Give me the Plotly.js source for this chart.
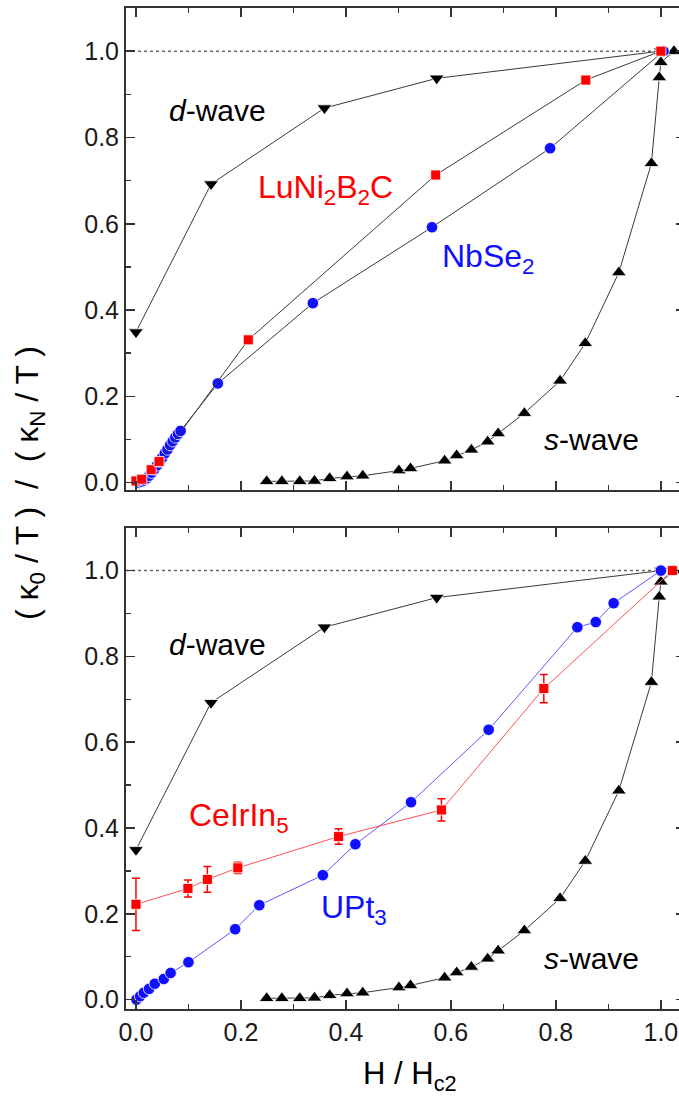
<!DOCTYPE html>
<html>
<head>
<meta charset="utf-8">
<script src="https://cdn.plot.ly/plotly-3.0.1.min.js"></script>
<style>html,body{margin:0;padding:0;overflow:hidden;background:#fff}</style>
</head>
<body>
<div id="chart"></div>
<script>
// d-wave (both panels)
const dwaveX = [0.0, 0.143, 0.359, 0.573, 1.0];
const dwaveY = [0.349, 0.692, 0.868, 0.937, 1.0];
// s-wave (both panels)
const swaveX = [0.249, 0.278, 0.312, 0.340, 0.369, 0.402, 0.432, 0.501, 0.523, 0.588, 0.611, 0.639, 0.670, 0.690, 0.740, 0.808, 0.856, 0.920, 0.982, 0.997, 1.0, 1.025];
const swaveY = [0.003, 0.003, 0.003, 0.004, 0.010, 0.014, 0.016, 0.028, 0.033, 0.051, 0.063, 0.076, 0.095, 0.114, 0.161, 0.236, 0.323, 0.487, 0.740, 0.939, 0.974, 1.0];
// LuNi2B2C (top)
const luniX = [0.0, 0.011, 0.029, 0.044, 0.214, 0.571, 0.857, 1.0];
const luniY = [0.004, 0.008, 0.030, 0.049, 0.331, 0.713, 0.933, 1.0];
// NbSe2 (top)
const nbseX = [0.005, 0.01, 0.015, 0.02, 0.025, 0.03, 0.035, 0.04, 0.045, 0.05, 0.055, 0.06, 0.065, 0.07, 0.075, 0.08, 0.085, 0.156, 0.337, 0.564, 0.789, 1.005];
const nbseY = [0.0, 0.002, 0.005, 0.010, 0.016, 0.023, 0.031, 0.040, 0.049, 0.058, 0.068, 0.077, 0.087, 0.096, 0.105, 0.113, 0.120, 0.230, 0.416, 0.592, 0.775, 1.0];
// CeIrIn5 (bottom)
const ceX = [0.0, 0.099, 0.136, 0.194, 0.386, 0.582, 0.777, 1.022];
const ceY = [0.222, 0.259, 0.280, 0.307, 0.380, 0.442, 0.725, 1.0];
const ceErr = [0.061, 0.020, 0.030, 0.013, 0.018, 0.026, 0.033, 0.0];
// UPt3 (bottom)
const uptX = [0.001, 0.008, 0.015, 0.025, 0.036, 0.053, 0.066, 0.100, 0.189, 0.235, 0.356, 0.418, 0.524, 0.672, 0.841, 0.876, 0.910, 1.0];
const uptY = [0.0, 0.008, 0.016, 0.025, 0.037, 0.048, 0.062, 0.087, 0.164, 0.220, 0.290, 0.362, 0.460, 0.629, 0.868, 0.880, 0.924, 1.0];

const xTicks = [0, 0.2, 0.4, 0.6, 0.8, 1.0];
const xTickText = ['0.0', '0.2', '0.4', '0.6', '0.8', '1.0'];
const yTicks = [0, 0.2, 0.4, 0.6, 0.8, 1.0];
const yTickText = ['0.0', '0.2', '0.4', '0.6', '0.8', '1.0'];
const minorTicks = [0.1, 0.3, 0.5, 0.7, 0.9];

const FONT = 'Liberation Sans, Arial, sans-serif';
const RED = '#ff0000', BLUE = '#1010ff', BLK = '#000000', LINE = '#3a3a3a';

function tr(x, y, xa, ya, sym, col, size, lcol, lw, extra) {
  return Object.assign({
    x: x, y: y, xaxis: xa, yaxis: ya, type: 'scatter', mode: 'lines+markers',
    line: {color: lcol, width: lw},
    marker: {symbol: sym, color: col, size: size, line: {color: '#ffffff', width: 0.8}},
    showlegend: false, hoverinfo: 'skip'
  }, extra || {});
}

const data = [
  // top panel
  tr(dwaveX, dwaveY, 'x2', 'y2', 'triangle-down', BLK, 13, LINE, 1),
  tr(swaveX, swaveY, 'x2', 'y2', 'triangle-up', BLK, 13, LINE, 1),
  tr(nbseX, nbseY, 'x2', 'y2', 'circle', BLUE, 11.5, LINE, 1),
  tr(luniX, luniY, 'x2', 'y2', 'square', RED, 10, LINE, 1),
  // bottom panel
  tr(dwaveX, dwaveY, 'x', 'y', 'triangle-down', BLK, 13, LINE, 1),
  tr(swaveX, swaveY, 'x', 'y', 'triangle-up', BLK, 13, LINE, 1),
  tr(uptX, uptY, 'x', 'y', 'circle', BLUE, 11.5, '#5a5aff', 1),
  tr(ceX, ceY, 'x', 'y', 'square', RED, 10, '#ff5050', 1,
     {error_y: {type: 'data', array: ceErr, visible: true, color: RED, thickness: 1.5, width: 4}})
];

const W = 690, H = 1097;
const mL = 126, mR = 5, mT = 8, mB = 88;
const ph = H - mT - mB, pw = W - mL - mR;
const minorCommon = {ticks: 'inside', ticklen: 5, tickwidth: 1.5, tickcolor: '#333', showgrid: false, tickvals: minorTicks};
const axCommon = {
  showline: true, linecolor: '#333', linewidth: 2, mirror: 'ticks',
  ticks: 'inside', ticklen: 9, tickwidth: 1.5, tickcolor: '#333',
  showgrid: false, zeroline: false,
  tickfont: {family: FONT, size: 25, color: '#1a1a1a'},
  minor: minorCommon
};
const xr = [-0.019, 1.046];
const layout = {
  width: W, height: H,
  margin: {l: mL, r: mR, t: mT, b: mB},
  paper_bgcolor: '#fff', plot_bgcolor: '#fff',
  font: {family: FONT, color: '#111'},
  xaxis: Object.assign({}, axCommon, {range: xr, anchor: 'y', tickvals: xTicks, ticktext: xTickText}),
  xaxis2: Object.assign({}, axCommon, {range: xr, anchor: 'y2', matches: 'x', tickvals: xTicks, showticklabels: false}),
  yaxis: Object.assign({}, axCommon, {range: [-0.022, 1.1], domain: [0, (H - mB - 527.7) / ph], anchor: 'x', tickvals: yTicks, ticktext: yTickText}),
  yaxis2: Object.assign({}, axCommon, {range: [-0.017, 1.1], domain: [(H - mB - 490) / ph, 1], anchor: 'x2', tickvals: yTicks, ticktext: yTickText}),
  shapes: [
    {type: 'line', xref: 'x2 domain', yref: 'y2', x0: 0, x1: 1, y0: 1, y1: 1, line: {color: '#666', width: 1.5, dash: 'dot'}, layer: 'below'},
    {type: 'line', xref: 'x domain', yref: 'y', x0: 0, x1: 1, y0: 1, y1: 1, line: {color: '#666', width: 1.5, dash: 'dot'}, layer: 'below'}
  ],
  annotations: [
    {xref: 'x2', yref: 'y2', x: 0.156, y: 0.863, text: '<i>d</i>-wave', showarrow: false, xanchor: 'center', yanchor: 'middle', font: {family: FONT, size: 30, color: BLK}},
    {xref: 'x2', yref: 'y2', x: 0.361, y: 0.68, text: 'LuNi<sub>2</sub>B<sub>2</sub>C', showarrow: false, xanchor: 'center', yanchor: 'middle', font: {family: FONT, size: 32, color: RED}},
    {xref: 'x2', yref: 'y2', x: 0.672, y: 0.52, text: 'NbSe<sub>2</sub>', showarrow: false, xanchor: 'center', yanchor: 'middle', font: {family: FONT, size: 32, color: BLUE}},
    {xref: 'x2', yref: 'y2', x: 0.868, y: 0.100, text: '<i>s</i>-wave', showarrow: false, xanchor: 'center', yanchor: 'middle', font: {family: FONT, size: 30, color: BLK}},
    {xref: 'x', yref: 'y', x: 0.156, y: 0.828, text: '<i>d</i>-wave', showarrow: false, xanchor: 'center', yanchor: 'middle', font: {family: FONT, size: 30, color: BLK}},
    {xref: 'x', yref: 'y', x: 0.197, y: 0.425, text: 'CeIrIn<sub>5</sub>', showarrow: false, xanchor: 'center', yanchor: 'middle', font: {family: FONT, size: 32, color: RED}},
    {xref: 'x', yref: 'y', x: 0.416, y: 0.21, text: 'UPt<sub>3</sub>', showarrow: false, xanchor: 'center', yanchor: 'middle', font: {family: FONT, size: 32, color: BLUE}},
    {xref: 'x', yref: 'y', x: 0.868, y: 0.095, text: '<i>s</i>-wave', showarrow: false, xanchor: 'center', yanchor: 'middle', font: {family: FONT, size: 30, color: BLK}},
    {xref: 'paper', yref: 'paper', x: (29 - mL) / pw, y: (H - mB - 483) / ph, textangle: -90, xanchor: 'center', yanchor: 'middle',
     text: '( κ<sub>0</sub> / T )  /  ( κ<sub>N</sub> / T )', showarrow: false, font: {family: FONT, size: 32, color: BLK}},
    {xref: 'paper', yref: 'paper', x: (410 - mL) / pw, y: (H - mB - 1076) / ph, xanchor: 'center', yanchor: 'middle',
     text: 'H / H<sub>c2</sub>', showarrow: false, font: {family: FONT, size: 31, color: BLK}}
  ]
};

Plotly.newPlot('chart', data, layout, {staticPlot: true, displayModeBar: false});
</script>
</body>
</html>
